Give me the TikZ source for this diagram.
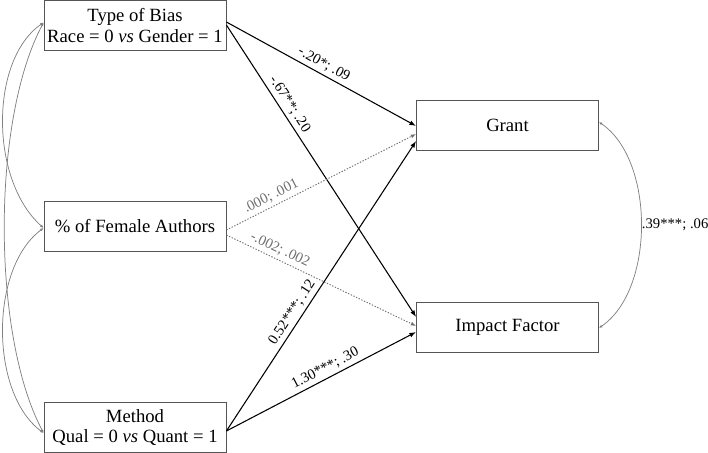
\documentclass[tikz,border=0pt]{standalone}
\usepackage{fontspec}
\setmainfont{Liberation Serif}
\usetikzlibrary{arrows.meta,calc}
\definecolor{boxgray}{HTML}{555555}
\definecolor{covgray}{HTML}{808080}
\definecolor{dotgray}{HTML}{707070}
\begin{document}
\begin{tikzpicture}[x=0.75pt,y=-0.75pt,
  varbox/.style={draw=boxgray,line width=0.6pt,minimum width=136.5pt,minimum height=37.5pt,
    inner sep=1pt,align=center,font=\fontsize{14}{15.5}\selectfont},
  patharrow/.style={line width=0.8pt,-{Latex[length=5pt,width=3.6pt]}},
  dotarrow/.style={dotgray,line width=0.7pt,dash pattern=on 1pt off 1.2pt,-{Latex[length=4pt,width=3pt]}},
  covcurve/.style={covgray,line width=0.55pt,{Latex[length=2.6pt,width=2.2pt]}-{Latex[length=2.6pt,width=2.2pt]}},
  elabel/.style={font=\fontsize{11}{12}\selectfont,sloped,above,inner sep=2.5pt},
  glabel/.style={elabel,text=dotgray}]
\useasboundingbox (0,0) rectangle (708,453);

\node[varbox] (tob) at (135,25.5) {Type of Bias\\Race = 0 \textit{vs} Gender = 1};
\node[varbox] (fem) at (135,226.5) {\% of Female Authors};
\node[varbox] (meth) at (135,427.5) {Method\\Qual = 0 \textit{vs} Quant = 1};
\node[varbox] (grant) at (507.5,125.5) {Grant};
\node[varbox] (imp) at (507.5,327.5) {Impact Factor};

% paths
\draw[patharrow] ($(tob.east)+(0,-3.5)$) -- node[elabel,pos=0.49] {-.20*; .09} ($(grant.west)+(0,0.5)$);
\draw[patharrow] ($(tob.east)+(0,-0.5)$) -- node[elabel,pos=0.29] {-.67**; .20} ($(imp.west)+(0,-10.5)$);
\draw[dotarrow] ($(fem.east)+(0,3.5)$) -- node[glabel,pos=0.26] {.000; .001} ($(grant.west)+(0,8.5)$);
\draw[dotarrow] ($(fem.east)+(0,8.5)$) -- node[glabel,pos=0.26] {-.002; .002} ($(imp.west)+(0,-1.5)$);
\draw[patharrow] ($(meth.east)+(0,3.5)$) -- node[elabel,pos=0.39] {0.52***; .12} ($(grant.west)+(0,15.5)$);
\draw[patharrow] ($(meth.east)+(0,3.5)$) -- node[elabel,pos=0.545] {1.30***; .30} ($(imp.west)+(0,4.5)$);

% covariances
\draw[covcurve] ($(tob.west)+(0,-3)$) .. controls +(-54,37.5) and +(-54,-48) .. ($(fem.west)+(0,1.5)$);
\draw[covcurve] ($(tob.west)+(0,-3)$) .. controls +(-52,97.5) and +(-52,-98) .. ($(meth.west)+(0,5.5)$);
\draw[covcurve] ($(fem.west)+(0,1.5)$) .. controls +(-54,40) and +(-54,-40) .. ($(meth.west)+(0,5.5)$);
\draw[covcurve] ($(grant.east)+(0,-3.5)$) .. controls +(56,38) and +(56,-38) .. node[pos=0.5,anchor=west,inner sep=0.5pt,text=black,font=\fontsize{11}{12}\selectfont] (cov) {.39***; .06} ($(imp.east)+(0,0.5)$);
\end{tikzpicture}
\end{document}
